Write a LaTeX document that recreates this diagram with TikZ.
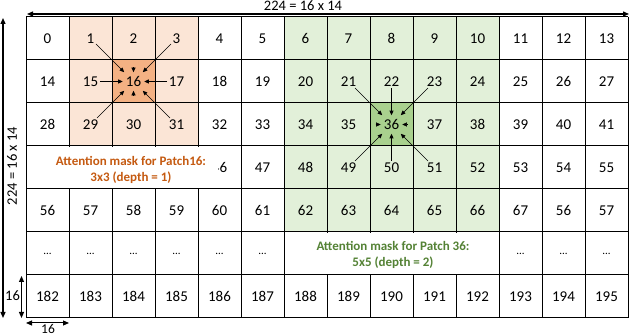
\documentclass[tikz,border=0pt]{standalone}
\usepackage{fontspec}
\setmainfont{Carlito}
\usetikzlibrary{arrows.meta,calc}
\definecolor{orL}{HTML}{FBE5D6}
\definecolor{orD}{HTML}{F4B183}
\definecolor{grL}{HTML}{E2F0D9}
\definecolor{grD}{HTML}{A9D18E}
\definecolor{orT}{HTML}{C55A11}
\definecolor{grT}{HTML}{548235}
\begin{document}
\begin{tikzpicture}[x=1pt,y=-1pt,
  gridline/.style={line width=1pt,black},
  num/.style={font=\fontsize{15}{17}\selectfont,inner sep=1.5pt},
  hub/.style={num,inner xsep=3pt,inner ysep=4pt},
  arr/.style={-{Triangle[length=4.5pt,width=4pt]},line width=0.5pt},
  arrB/.style={-{Triangle[length=4.5pt,width=4pt]},line width=0.9pt},
  dim/.style={{Triangle[length=6pt,width=5pt]}-{Triangle[length=6pt,width=5pt]},line width=1.3pt},
  dimtxt/.style={font=\fontsize{14.5}{16}\selectfont,inner sep=0pt},
  cover/.style={fill=white,inner sep=0pt},
  masktxt/.style={font=\fontsize{13}{16.5}\selectfont\bfseries,align=center,inner sep=0pt}]
\useasboundingbox (0,0) rectangle (630,336);
% fills
\fill[orL] (69,17) rectangle (198,146);
\fill[orD] (112,60) rectangle (155,103);
\fill[grL] (284,17) rectangle (499,232);
\fill[grD] (370,103) rectangle (413,146);
% grid
\foreach \i in {0,...,14} \draw[gridline] ({26+43*\i},17) -- ({26+43*\i},318);
\foreach \j in {0,...,7} \draw[gridline] (26,{17+43*\j}) -- (628,{17+43*\j});
% numbered cells
\foreach \r in {0,1,2} {
  \foreach \c in {0,...,13} {
    \pgfmathtruncatemacro\k{14*\r+\c}
    \ifnum\k=16\relax\else\ifnum\k=36\relax\else
      \node[num] (c-\r-\c) at ({47.5+43*\c},{38.5+43*\r}) {\k};
    \fi\fi
  }
}
\node[hub] (c-1-2) at (133.5,81.5) {16};
\node[hub] (c-2-8) at (391.5,124.5) {36};
\foreach \c in {4,...,13} {
  \pgfmathtruncatemacro\k{42+\c}
  \node[num] (c-3-\c) at ({47.5+43*\c},167.5) {\k};
}
\foreach \c in {0,...,11} {
  \pgfmathtruncatemacro\k{56+\c}
  \node[num] (c-4-\c) at ({47.5+43*\c},210.5) {\k};
}
\node[num] (c-4-12) at (563.5,210.5) {56};
\node[num] (c-4-13) at (606.5,210.5) {57};
\foreach \c in {0,...,5,11,12,13} {
  \node[num,font=\fontsize{11}{13}\selectfont] (c-5-\c) at ({47.5+43*\c},253.5) {...};
}
\foreach \c in {0,...,13} {
  \pgfmathtruncatemacro\k{182+\c}
  \node[num] (c-6-\c) at ({47.5+43*\c},296.5) {\k};
}
% mask labels (white boxes over the grid)
\node[cover,minimum width=191pt,minimum height=41pt] (box16) at (122.5,167.5) {};
\node[cover,minimum width=213pt,minimum height=41pt] (box36) at (391.5,253.5) {};
\node[masktxt,text=orT] (lab16) at (131,170) {Attention mask for Patch16:\\3x3 (depth = 1)};
\node[masktxt,text=grT] (lab36) at (393,255) {Attention mask for Patch 36:\\5x5 (depth = 2)};
% arrows to patch 16
\draw[arr] (c-0-1) -- (c-1-2);
\draw[arr] (c-0-3) -- (c-1-2);
\draw[arr] (c-2-1) -- (c-1-2);
\draw[arr] (c-2-3) -- (c-1-2);
\draw[arrB] (c-1-1) -- (c-1-2);
\draw[arrB] (c-1-3) -- (c-1-2);
\coordinate (s2) at ($(c-1-2.north)+(0,-5)$);
\coordinate (s30) at ($(c-1-2.south)+(0,5)$);
\draw[arr] (s2) -- (c-1-2.north);
\draw[arr] (s30) -- (c-1-2.south);
% arrows to patch 36
\draw[arr] (c-1-7) -- (c-2-8);
\draw[arr] (c-1-9) -- (c-2-8);
\draw[arr] (c-3-7) -- (c-2-8);
\draw[arr] (c-3-9) -- (c-2-8);
\draw[arrB] (c-1-8) -- (c-2-8);
\draw[arrB] (c-3-8) -- (c-2-8);
\coordinate (s35) at ($(c-2-8.west)+(-5,0)$);
\coordinate (s37) at ($(c-2-8.east)+(5,0)$);
\draw[arr] (s35) -- (c-2-8.west);
\draw[arr] (s37) -- (c-2-8.east);
% dimension arrows
\coordinate (tl) at (27,14);
\coordinate (tr) at (629,14);
\draw[dim] (tl) -- (tr);
\node[dimtxt] (toplab) at (303,5.5) {224 = 16 x 14};
\coordinate (lt) at (3,18);
\coordinate (lb) at (3,318);
\draw[dim] (lt) -- (lb);
\node[dimtxt,rotate=90] (leftlab) at (12,166) {224 = 16 x 14};
\coordinate (vt) at (21.5,276);
\coordinate (vb) at (21.5,318);
\draw[dim,line width=1pt] (vt) -- (vb);
\node[dimtxt] (vlab) at (12.5,296) {16};
\coordinate (hl) at (26,323);
\coordinate (hr) at (69,323);
\draw[dim,line width=1pt] (hl) -- (hr);
\node[dimtxt,font=\fontsize{13.5}{15}\selectfont] (hlab) at (48,329) {16};
\end{tikzpicture}
\end{document}
